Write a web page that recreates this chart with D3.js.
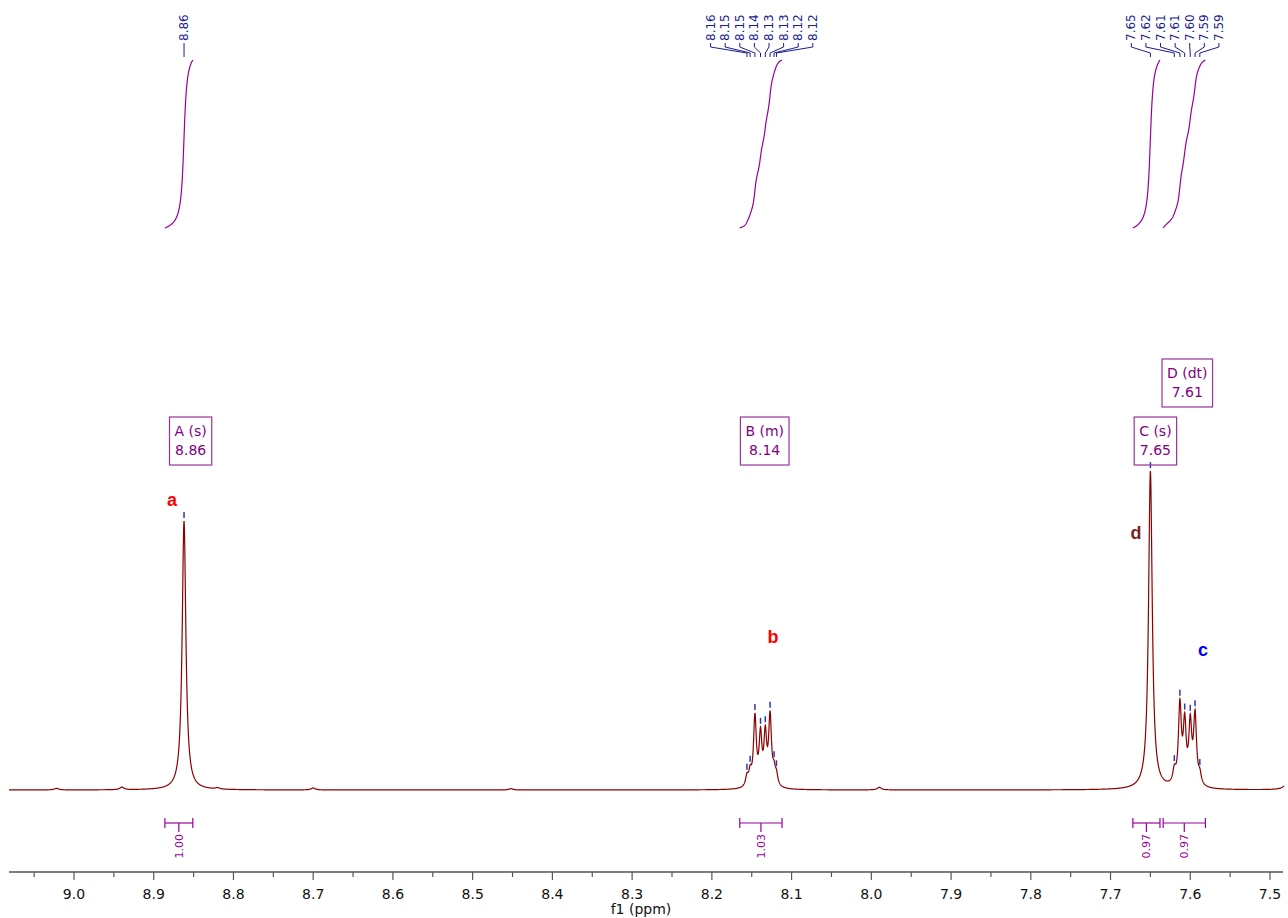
<!DOCTYPE html>
<html><head><meta charset="utf-8">
<script src="https://cdn.jsdelivr.net/npm/d3@7"></script>
<style>body{margin:0;background:#fff}svg{display:block}</style>
</head><body>
<svg id="chart" width="1288" height="918"></svg>
<script>
// ---- peak list: chemical shift (ppm), relative intensity, half width (ppm)
const peakPpm = [8.862, 8.156, 8.152, 8.146, 8.139, 8.133, 8.127, 8.122, 8.119,
                 7.650, 7.620, 7.613, 7.607, 7.600, 7.594, 7.588,
                 9.022, 8.940, 8.820, 8.700, 8.452, 7.990, 7.474];
const peakInt = [82, 3, 4, 21, 15, 15, 21, 4, 3,
                 97, 4, 24, 18, 18, 21, 3,
                 0.5, 0.8, 0.4, 0.6, 0.4, 0.8, 40];
const peakHw  = [0.0028, 0.0021, 0.0021, 0.0021, 0.0021, 0.0021, 0.0021, 0.0021, 0.0021,
                 0.0028, 0.0022, 0.0022, 0.0022, 0.0022, 0.0022, 0.0022,
                 0.003, 0.003, 0.003, 0.003, 0.003, 0.003, 0.0015];

// ---- picked peaks, one group per label cluster
const pickA  = [8.862];
const pickB  = [8.156, 8.152, 8.146, 8.139, 8.133, 8.127, 8.122, 8.119];
const pickCD = [7.650, 7.620, 7.613, 7.607, 7.600, 7.594, 7.588];

// ---- multiplet reports
const multNames = ["A (s)", "B (m)", "C (s)", "D (dt)"];
const multShift = [8.86, 8.14, 7.65, 7.61];

// ---- integrals
const intFrom   = [8.886, 8.165, 7.672, 7.634];
const intTo     = [8.851, 8.112, 7.638, 7.581];
const intValues = ["1.00", "1.03", "0.97", "0.97"];

// ---- assignment letters
const assignLetters = ["a", "b", "d", "c"];
const assignColors  = ["#ff0000", "#ff0000", "#7b1f1f", "#0000ff"];

// ---- axis
const axisMajor = [9.0, 8.9, 8.8, 8.7, 8.6, 8.5, 8.4, 8.3, 8.2, 8.1, 8.0, 7.9, 7.8, 7.7, 7.6, 7.5];
const axisTitle = "f1 (ppm)";

const svg = d3.select("#chart");
const x = d3.scaleLinear().domain([9.0, 7.5]).range([74, 1270]);
const xLeft = x.invert(9), xRight = x.invert(1284);
const y = d3.scaleLinear().domain([0, 100]).range([790, 462]);

function spec(p) {
  let s = 0;
  for (let i = 0; i < peakPpm.length; i++) {
    const d = (p - peakPpm[i]) / peakHw[i];
    s += peakInt[i] / (1 + d * d);
  }
  return s;
}

// ---- spectrum trace
const step = 0.00025;
const pts = d3.range(xLeft, xRight, -step).map(p => [p, spec(p)]);
svg.append("path")
  .datum(pts)
  .attr("fill", "none")
  .attr("stroke", "#8b0000")
  .attr("stroke-width", 1.2)
  .attr("d", d3.line().x(d => x(d[0])).y(d => y(d[1])));

// ---- integral curves (cumulative area, each drawn over the same height)
const intY = d3.scaleLinear().domain([0, 1]).range([228, 60]);
intFrom.forEach((f, i) => {
  const t = intTo[i];
  const ps = d3.range(f, t - step / 2, -step);
  let acc = 0;
  const cum = ps.map(p => { acc += spec(p); return [p, acc]; });
  const tot = acc;
  svg.append("path")
    .datum(cum)
    .attr("fill", "none")
    .attr("stroke", "#990099")
    .attr("stroke-width", 1.2)
    .attr("d", d3.line().x(d => x(d[0])).y(d => intY(d[1] / tot)));

  // bracket under the baseline
  const x1 = x(f), x2 = x(t), xm = (x1 + x2) / 2;
  const g = svg.append("g").attr("stroke", "#990099").attr("stroke-width", 1.2);
  g.append("line").attr("x1", x1).attr("x2", x2).attr("y1", 823).attr("y2", 823);
  g.append("line").attr("x1", x1).attr("x2", x1).attr("y1", 818).attr("y2", 828);
  g.append("line").attr("x1", x2).attr("x2", x2).attr("y1", 818).attr("y2", 828);
  g.append("line").attr("x1", xm).attr("x2", xm).attr("y1", 823).attr("y2", 832);
  svg.append("text")
    .attr("transform", `translate(${xm + 4},834) rotate(-90)`)
    .attr("text-anchor", "end")
    .attr("font-family", "DejaVu Sans, Verdana, sans-serif")
    .attr("font-size", 11)
    .attr("fill", "#990099")
    .text(intValues[i]);
});

// ---- peak picking labels and markers
const fmt = d3.format(".2f");
[pickA, pickB, pickCD].forEach(group => {
  const n = group.length;
  const cx = (x(group[0]) + x(group[n - 1])) / 2;
  const gap = 14.6;
  group.forEach((p, i) => {
    const lx = cx + (i - (n - 1) / 2) * gap;
    const px = x(p);
    svg.append("text")
      .attr("transform", `translate(${lx + 4},41) rotate(-90)`)
      .attr("text-anchor", "start")
      .attr("font-family", "DejaVu Sans, Verdana, sans-serif")
      .attr("font-size", 12)
      .attr("fill", "#1c1c8e")
      .text(fmt(p));
    svg.append("path")
      .attr("fill", "none")
      .attr("stroke", "#1c1c8e")
      .attr("stroke-width", 1)
      .attr("d", `M${lx},43 L${lx},47 L${px},53 L${px},57`);
    // marker above the peak
    const top = y(spec(p));
    svg.append("line")
      .attr("x1", px).attr("x2", px)
      .attr("y1", top - 9).attr("y2", top - 3)
      .attr("stroke", "#2a3aa8").attr("stroke-width", 1.5);
  });
});

// ---- multiplet boxes
const boxRow = [441, 441, 441, 383];
multNames.forEach((name, i) => {
  const cx = x(multShift[i]) + 5;
  const cy = boxRow[i];
  const g = svg.append("g");
  const t1 = g.append("text").attr("x", cx).attr("y", cy - 5)
    .attr("text-anchor", "middle")
    .attr("font-family", "DejaVu Sans, Verdana, sans-serif")
    .attr("font-size", 14).attr("fill", "#800080").text(name);
  const t2 = g.append("text").attr("x", cx).attr("y", cy + 14)
    .attr("text-anchor", "middle")
    .attr("font-family", "DejaVu Sans, Verdana, sans-serif")
    .attr("font-size", 14).attr("fill", "#800080").text(fmt(multShift[i]));
  const w = Math.max(t1.node().getComputedTextLength(), t2.node().getComputedTextLength()) + 10;
  g.insert("rect", "text")
    .attr("x", cx - w / 2).attr("y", cy - 24)
    .attr("width", w).attr("height", 48)
    .attr("fill", "#fff").attr("fill-opacity", 0)
    .attr("stroke", "#993399").attr("stroke-width", 1.2);
});

// ---- assignment letters
const letterAt = [[8.877, 88.4], [8.1233, 46.6], [7.668, 78.4], [7.584, 42.7]];
assignLetters.forEach((l, i) => {
  svg.append("text")
    .attr("x", x(letterAt[i][0])).attr("y", y(letterAt[i][1]))
    .attr("text-anchor", "middle").attr("dominant-baseline", "central")
    .attr("font-family", "Liberation Sans, Arial, sans-serif")
    .attr("font-weight", "bold").attr("font-size", 18)
    .attr("fill", assignColors[i]).text(l);
});

// ---- ppm axis
const axisG = svg.append("g").attr("transform", "translate(0,872)");
axisG.append("line").attr("x1", 9).attr("x2", 1283).attr("stroke", "#555").attr("stroke-width", 1.5);
const minor = d3.range(9.05, 7.47, -0.1);
minor.forEach(m => {
  axisG.append("line").attr("x1", x(m)).attr("x2", x(m)).attr("y1", 0).attr("y2", 5)
    .attr("stroke", "#555").attr("stroke-width", 1.2);
});
axisMajor.forEach(m => {
  axisG.append("line").attr("x1", x(m)).attr("x2", x(m)).attr("y1", 0).attr("y2", 8)
    .attr("stroke", "#555").attr("stroke-width", 1.2);
  axisG.append("text").attr("x", x(m)).attr("y", 27)
    .attr("text-anchor", "middle")
    .attr("font-family", "DejaVu Sans, Verdana, sans-serif")
    .attr("font-size", 14).attr("fill", "#111").text(d3.format(".1f")(m));
});
svg.append("text").attr("x", 641).attr("y", 914)
  .attr("text-anchor", "middle")
  .attr("font-family", "DejaVu Sans, Verdana, sans-serif")
  .attr("font-size", 14).attr("fill", "#111").text(axisTitle);
</script>
</body></html>
